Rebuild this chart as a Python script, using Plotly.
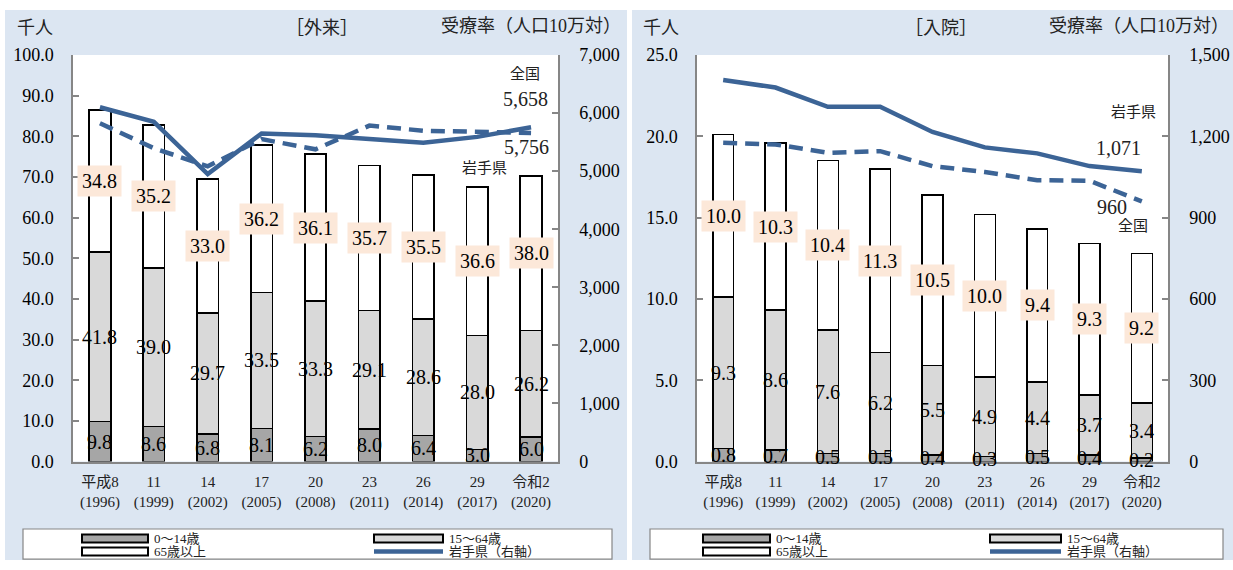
import plotly.graph_objects as go

# ---------------- data ----------------
categories = ["平成8<br>(1996)", "11<br>(1999)", "14<br>(2002)", "17<br>(2005)", "20<br>(2008)",
              "23<br>(2011)", "26<br>(2014)", "29<br>(2017)", "令和2<br>(2020)"]

out_0_14 = [9.8, 8.6, 6.8, 8.1, 6.2, 8.0, 6.4, 3.0, 6.0]
out_15_64 = [41.8, 39.0, 29.7, 33.5, 33.3, 29.1, 28.6, 28.0, 26.2]
out_65 = [34.8, 35.2, 33.0, 36.2, 36.1, 35.7, 35.5, 36.6, 38.0]
out_rate_iwate = [6100, 5850, 4950, 5650, 5620, 5560, 5490, 5590, 5756]
out_rate_japan = [5824, 5396, 5083, 5551, 5376, 5784, 5696, 5675, 5658]

in_0_14 = [0.8, 0.7, 0.5, 0.5, 0.4, 0.3, 0.5, 0.4, 0.2]
in_15_64 = [9.3, 8.6, 7.6, 6.2, 5.5, 4.9, 4.4, 3.7, 3.4]
in_65 = [10.0, 10.3, 10.4, 11.3, 10.5, 10.0, 9.4, 9.3, 9.2]
in_rate_iwate = [1408, 1380, 1309, 1309, 1216, 1159, 1137, 1090, 1071]
in_rate_japan = [1176, 1170, 1139, 1145, 1090, 1068, 1038, 1036, 960]

legend_names = ["0～14歳", "15～64歳", "65歳以上", "岩手県（右軸）"]

# ---------------- style ----------------
W = 1233
Y_OFF, Y_SPAN = 10.0, 550.0   # where the page lands in the photographed picture
BG = "#dce6f2"
C_DARK = "#a6a6a6"
C_LIGHT = "#d9d9d9"
C_LINE = "#3c6496"
PEACH = "#fce8d9"
AXC = "#868686"
SERIF = "Liberation Serif, Noto Sans CJK JP"
JP = "Noto Sans CJK JP, Liberation Serif"


def px(x):
    return x / W


def py(t):
    f = 1 - (t - Y_OFF) / Y_SPAN
    return min(1.0, max(0.0, f))


xs = list(range(len(categories)))
fig = go.Figure()
shapes = []
annotations = []

panels = [
    dict(x0=73, x1=558, xa="x", ya="y", ya2="y2", xname="xaxis", yname="yaxis", y2name="yaxis2",
         d1=out_0_14, d2=out_15_64, d3=out_65, iw=out_rate_iwate, jp=out_rate_japan,
         yrange=[0, 100], ydt=10, y2range=[0, 7000], y2dt=1000,
         bg=(5, 7, 627), title="［外来］", title_x=322, unit_x=15, rate_right=623,
         legend_box=(23, 612), sw_x=(82, 148), sw2_x=(374, 443)),
    dict(x0=697, x1=1168, xa="x2", ya="y3", ya2="y4", xname="xaxis2", yname="yaxis3", y2name="yaxis4",
         d1=in_0_14, d2=in_15_64, d3=in_65, iw=in_rate_iwate, jp=in_rate_japan,
         yrange=[0, 25], ydt=5, y2range=[0, 1500], y2dt=300,
         bg=(632, 8, 1233), title="［入院］", title_x=941, unit_x=641, rate_right=1231,
         legend_box=(650, 1223), sw_x=(703, 770), sw2_x=(990, 1061)),
]

ytop, ybot = 55, 461.5
LEG_TOP, LEG_BOT = 529, 560
ROW1, ROW2 = 538.5, 551.5

for p in panels:
    bx0, by0, bx1 = p["bg"]
    shapes.append(dict(type="rect", xref="paper", yref="paper", x0=px(bx0), x1=px(bx1),
                       y0=0, y1=py(by0), fillcolor=BG, line=dict(width=0), layer="below"))
    for vals, col in [(p["d1"], C_DARK), (p["d2"], C_LIGHT), (p["d3"], "white")]:
        fig.add_trace(go.Bar(x=xs, y=vals, xaxis=p["xa"], yaxis=p["ya"], width=0.4,
                             marker=dict(color=col, line=dict(color="black", width=1.6)),
                             showlegend=False, hoverinfo="skip"))
    fig.add_trace(go.Scatter(x=xs, y=p["jp"], xaxis=p["xa"], yaxis=p["ya2"], mode="lines",
                             line=dict(color=C_LINE, width=4.5, dash="14px,8px"),
                             showlegend=False, hoverinfo="skip"))
    fig.add_trace(go.Scatter(x=xs, y=p["iw"], xaxis=p["xa"], yaxis=p["ya2"], mode="lines",
                             line=dict(color=C_LINE, width=4.5),
                             showlegend=False, hoverinfo="skip"))
    for i in xs:
        a, b, c = p["d1"][i], p["d2"][i], p["d3"][i]
        for yv, val, peach in [(a / 2, a, False), (a + b / 2, b, False), (a + b + c / 2, c, True)]:
            ann = dict(x=i, y=yv, xref=p["xa"], yref=p["ya"], text=f"{val:.1f}", showarrow=False,
                       font=dict(family=SERIF, size=20, color="black"))
            if peach:
                ann.update(bgcolor=PEACH, borderpad=4)
            annotations.append(ann)

    dom_x = [px(p["x0"]), px(p["x1"])]
    dom_y = [py(ybot), py(ytop)]
    axis_common = dict(showline=True, linecolor=AXC, linewidth=1.5, showgrid=False, zeroline=False)
    fig.update_layout(**{
        p["xname"]: dict(domain=dom_x, anchor=p["ya"], range=[-0.5, 8.5], tickvals=xs,
                         ticktext=categories, ticks="", ticklabelstandoff=6,
                         tickfont=dict(family=SERIF, size=15, color="#222"), **axis_common),
        p["yname"]: dict(domain=dom_y, anchor=p["xa"], range=p["yrange"], dtick=p["ydt"],
                         tickformat=".1f", ticks="inside", ticklen=6, tickcolor=AXC, tickwidth=1.5,
                         ticklabelstandoff=14,
                         tickfont=dict(family=SERIF, size=18, color="black"), **axis_common),
        p["y2name"]: dict(overlaying=p["ya"], side="right", anchor=p["xa"], range=p["y2range"],
                          dtick=p["y2dt"], tickformat=",", ticks="inside", ticklen=6, tickcolor=AXC,
                          tickwidth=1.5, ticklabelstandoff=16,
                          tickfont=dict(family=SERIF, size=18, color="black"), **axis_common),
    })
    shapes.append(dict(type="rect", xref="paper", yref="paper", x0=dom_x[0], x1=dom_x[1],
                       y0=dom_y[0], y1=dom_y[1], fillcolor="white", line=dict(width=0), layer="below"))

    for tx, anchor, text, fam in [(p["unit_x"], "left", "千人", JP),
                                  (p["title_x"], "center", p["title"], JP),
                                  (p["rate_right"], "right", "受療率（人口10万対）", SERIF)]:
        annotations.append(dict(xref="paper", yref="paper", x=px(tx), y=py(26), xanchor=anchor,
                                yanchor="middle", text=text, showarrow=False,
                                font=dict(family=fam, size=18, color="#222")))

    lx0, lx1 = p["legend_box"]
    shapes.append(dict(type="rect", xref="paper", yref="paper", x0=px(lx0), x1=px(lx1),
                       y0=py(LEG_BOT - 0.8), y1=py(LEG_TOP), fillcolor="white",
                       line=dict(color=AXC, width=1.2)))
    s0, s1 = p["sw_x"]
    t0, t1 = p["sw2_x"]
    for (sx0, sx1), yc, col in [((s0, s1), ROW1, C_DARK), ((t0, t1), ROW1, C_LIGHT),
                                ((s0, s1), ROW2, "white")]:
        shapes.append(dict(type="rect", xref="paper", yref="paper", x0=px(sx0), x1=px(sx1),
                           y0=py(yc + 4), y1=py(yc - 4), fillcolor=col,
                           line=dict(color="black", width=2)))
    shapes.append(dict(type="line", xref="paper", yref="paper", x0=px(t0), x1=px(t1),
                       y0=py(ROW2), y1=py(ROW2), line=dict(color=C_LINE, width=4.5)))
    for tx, yc, name in [(s1 + 4, ROW1, legend_names[0]), (t1 + 4, ROW1, legend_names[1]),
                         (s1 + 4, ROW2, legend_names[2]), (t1 + 4, ROW2, legend_names[3])]:
        annotations.append(dict(xref="paper", yref="paper", x=px(tx), y=py(yc), xanchor="left",
                                yanchor="middle", text=name, showarrow=False,
                                font=dict(family=SERIF, size=13, color="#222")))


def callout(x, y, text, size, fam=SERIF):
    annotations.append(dict(xref="paper", yref="paper", x=px(x), y=py(y), xanchor="center",
                            yanchor="middle", text=text, showarrow=False,
                            font=dict(family=fam, size=size, color="#222")))


callout(525, 72, "全国", 15, JP)
callout(525, 99, f"{out_rate_japan[-1]:,}", 20)
callout(526, 147, f"{out_rate_iwate[-1]:,}", 20)
callout(484, 167, "岩手県", 15, JP)

callout(1133, 111, "岩手県", 15, JP)
callout(1118, 148, f"{in_rate_iwate[-1]:,}", 20)
callout(1112, 207, f"{in_rate_japan[-1]:,}", 20)
callout(1133, 224, "全国", 15, JP)

fig.update_layout(autosize=True, margin=dict(l=0, r=0, t=0, b=0), paper_bgcolor="white",
                  plot_bgcolor="rgba(0,0,0,0)", barmode="stack", showlegend=False,
                  shapes=shapes, annotations=annotations)

post = """
var s=document.createElement('style');
s.textContent='html,body{margin:0!important;padding:0!important;overflow:hidden!important;width:100%;height:100%;background:white;}';
document.head.appendChild(s);
var d=document.getElementsByClassName('plotly-graph-div')[0];
d.style.position='fixed'; d.style.top='0px'; d.style.left='0px';
d.style.width='100vw'; d.style.height='100vh';
window.dispatchEvent(new Event('resize'));
"""

fig.write_html(
    "out.html",
    config={"displayModeBar": False, "responsive": True},
    default_width="100vw",
    default_height="100vh",
    post_script=post,
)
